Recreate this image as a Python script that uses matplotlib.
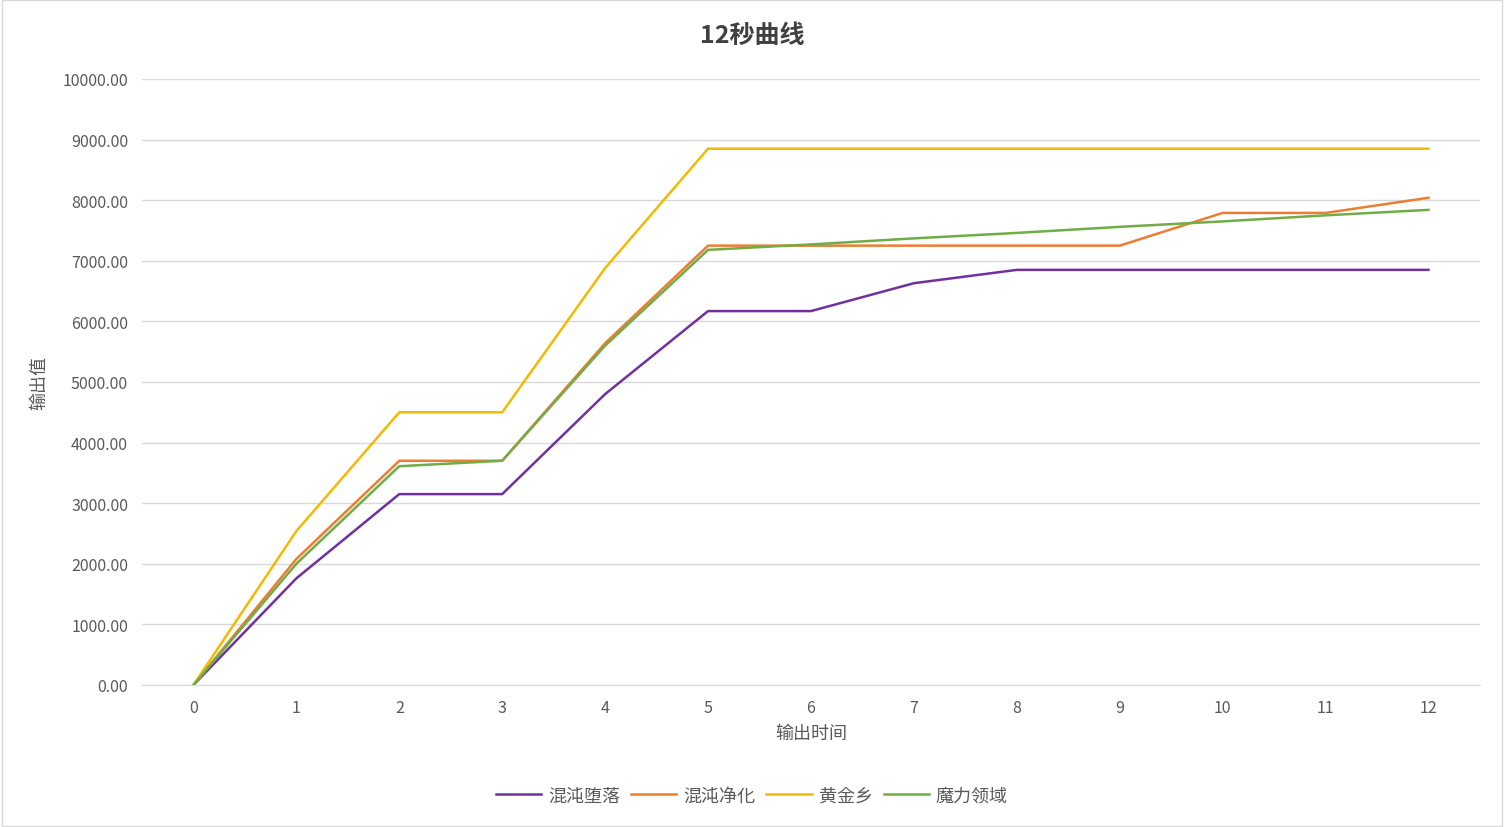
import matplotlib
matplotlib.use("Agg")
import matplotlib.pyplot as plt
from matplotlib.patches import Rectangle
from matplotlib import font_manager as fm

cjk = None
for f in fm.findSystemFonts():
    n = f.lower()
    if "notosanscjk" in n.replace("-", "").replace("_", "") or "notosanssc" in n.replace("-", ""):
        try:
            fm.fontManager.addfont(f)
        except Exception:
            pass
names = {f.name for f in fm.fontManager.ttflist}
for cand in ["Noto Sans CJK SC", "Noto Sans CJK JP", "Noto Sans SC", "Noto Sans CJK TC"]:
    if cand in names:
        cjk = cand
        break
plt.rcParams["font.family"] = [cjk or "DejaVu Sans", "DejaVu Sans"]

x_labels = [str(i) for i in range(13)]
series_names = ["混沌堕落", "混沌净化", "黄金乡", "魔力领域"]
chaos_fall = [0, 1760, 3150, 3150, 4800, 6170, 6170, 6630, 6850, 6850, 6850, 6850, 6850]
chaos_purify = [0, 2080, 3700, 3700, 5640, 7250, 7250, 7250, 7250, 7250, 7790, 7790, 8040]
golden = [0, 2540, 4500, 4500, 6880, 8850, 8850, 8850, 8850, 8850, 8850, 8850, 8850]
magic = [0, 2000, 3610, 3700, 5600, 7180, 7270, 7370, 7460, 7560, 7650, 7750, 7840]
colors = ["#7030A0", "#ED7D31", "#F2BA02", "#70AD47"]

fig = plt.figure(figsize=(15.04, 8.28), dpi=100)
fig.patches.append(Rectangle((0.001, 0.001), 0.998, 0.998, transform=fig.transFigure,
                             fill=False, edgecolor="#D9D9D9", lw=1))
ax = fig.add_axes([0.0944, 0.1715, 0.8896, 0.7319])
xs = list(range(len(x_labels)))
for name, vals, c in zip(series_names, [chaos_fall, chaos_purify, golden, magic], colors):
    ax.plot(xs, vals, color=c, lw=1.8, label=name)
ax.set_xlim(-0.5, 12.5)
ax.set_ylim(0, 10000)
ax.set_yticks(range(0, 10001, 1000))
ax.set_yticklabels([f"{v:.2f}" for v in range(0, 10001, 1000)])
ax.set_xticks(xs)
ax.set_xticklabels(x_labels)
ax.grid(axis="y", color="#D9D9D9", lw=1)
ax.set_axisbelow(True)
for s in ["top", "right", "left"]:
    ax.spines[s].set_visible(False)
ax.spines["bottom"].set_color("#D9D9D9")
ax.tick_params(length=0, colors="#595959", labelsize=11.5, pad=10)
ax.set_xlabel("输出时间", color="#595959", fontsize=13, labelpad=6)
ax.set_ylabel("输出值", color="#595959", fontsize=13, labelpad=10)
fig.text(0.5, 0.957, "12秒曲线", ha="center", va="center", fontsize=18, fontweight="bold", color="#404040")
leg = fig.legend(loc="center", bbox_to_anchor=(0.5, 0.038), ncol=4, frameon=False,
                 fontsize=13, handlelength=2.5, columnspacing=0.6, handletextpad=0.4)
for t in leg.get_texts():
    t.set_color("#595959")
fig.savefig("out.png", dpi=100)
